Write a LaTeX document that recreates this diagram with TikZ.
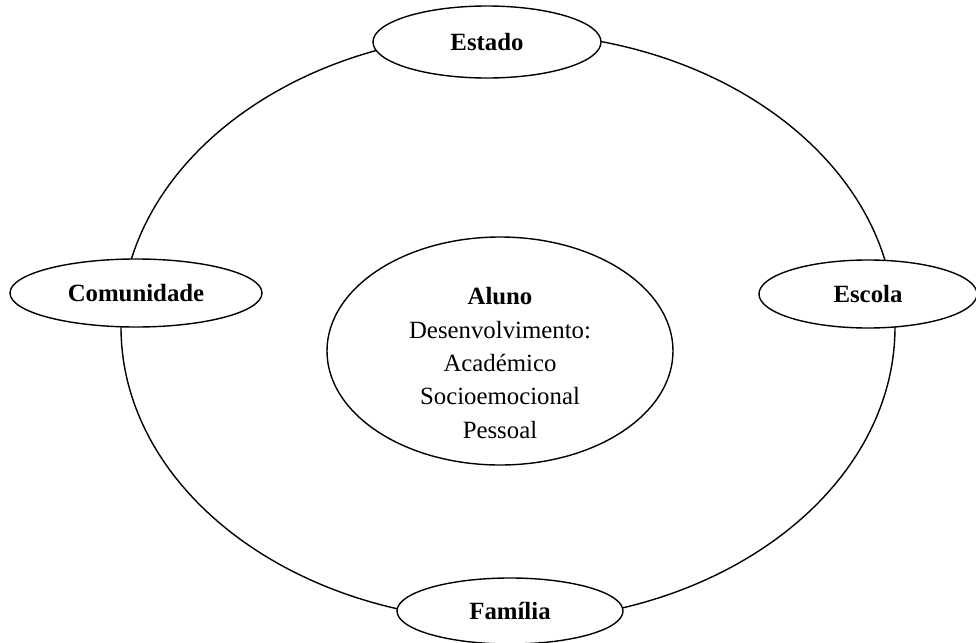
\documentclass[tikz,border=0pt]{standalone}
\usepackage{fontspec}
\setmainfont{Liberation Serif}
\usetikzlibrary{shapes.geometric}
\begin{document}
\begin{tikzpicture}[x=0.5pt,y=-0.5pt,line width=0.7pt]
\tikzstyle{every node}+=[inner sep=0pt]
\tikzstyle{oval}=[draw=black,fill=white,ellipse,font=\fontsize{12.4}{16.7}\selectfont]
\useasboundingbox (0,0) rectangle (976,643);
% outer ring and central circle
\node [oval,fill=none,minimum width=387pt,minimum height=294pt] (ring) at (508,327) {};
\node [oval,fill=none,minimum width=173pt,minimum height=114pt] (aluno) at (500,351) {};
\node [align=center,font=\fontsize{12.4}{16.7}\selectfont] (alunotxt) at (500,363)
  {\textbf{Aluno}\\Desenvolvimento:\\Académico\\Socioemocional\\Pessoal};
% the four partners on the ring
\node [oval,minimum width=114pt,minimum height=36pt] (estado) at (487,42) {\textbf{Estado}};
\node [oval,minimum width=126pt,minimum height=34pt] (comunidade) at (136,293) {\textbf{Comunidade}};
\node [oval,minimum width=109pt,minimum height=34pt] (escola) at (868,294) {\textbf{Escola}};
\node [oval,minimum width=113pt,minimum height=33pt] (familia) at (510,611) {\textbf{Família}};
\end{tikzpicture}
\end{document}
